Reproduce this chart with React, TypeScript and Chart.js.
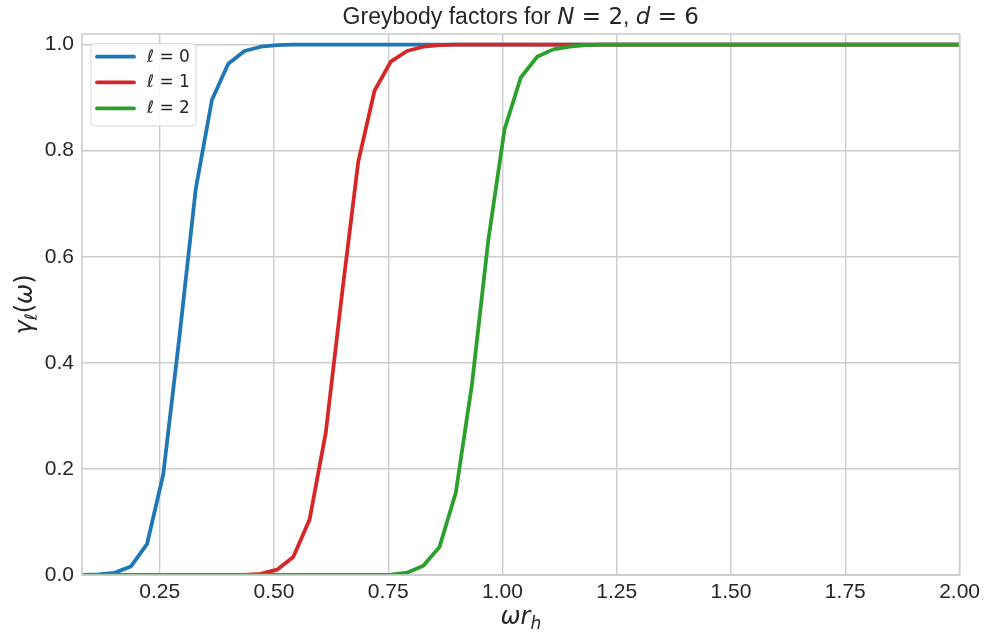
import React, { useEffect, useRef } from "react";
import { Chart, registerables } from "chart.js";
Chart.register(...registerables);

const omegaRh = [
  0.08, 0.1156, 0.1511, 0.1867, 0.2222, 0.2578, 0.2933, 0.3289, 0.3644, 0.4,
  0.4356, 0.4711, 0.5067, 0.5422, 0.5778, 0.6133, 0.6489, 0.6844, 0.72, 0.7556,
  0.7911, 0.8267, 0.8622, 0.8978, 0.9333, 0.9689, 1.0044, 1.04, 1.0756, 1.1111,
  1.1467, 1.1822, 1.2178, 1.2533, 1.2889, 1.3244, 1.36, 1.3956, 1.4311, 1.4667,
  1.5022, 1.5378, 1.5733, 1.6089, 1.6444, 1.68, 1.7156, 1.7511, 1.7867, 1.8222,
  1.8578, 1.8933, 1.9289, 1.9644, 2.0,
];

const gammaL0 = [
  0.0002, 0.001, 0.004, 0.016, 0.058, 0.19, 0.45, 0.728, 0.896, 0.964,
  0.988, 0.996, 0.999, 1, 1, 1, 1, 1, 1, 1,
  1, 1, 1, 1, 1, 1, 1, 1, 1, 1,
  1, 1, 1, 1, 1, 1, 1, 1, 1, 1,
  1, 1, 1, 1, 1, 1, 1, 1, 1, 1,
  1, 1, 1, 1, 1,
];

const gammaL1 = [
  0, 0, 0, 0, 0, 0, 0, 0, 0, 0.0001,
  0.0004, 0.002, 0.01, 0.034, 0.104, 0.268, 0.53, 0.779, 0.913, 0.968,
  0.988, 0.996, 0.999, 1, 1, 1, 1, 1, 1, 1,
  1, 1, 1, 1, 1, 1, 1, 1, 1, 1,
  1, 1, 1, 1, 1, 1, 1, 1, 1, 1,
  1, 1, 1, 1, 1,
];

const gammaL2 = [
  0, 0, 0, 0, 0, 0, 0, 0, 0, 0,
  0, 0, 0, 0, 0, 0, 0, 0, 0.0001, 0.0006,
  0.0043, 0.0175, 0.053, 0.155, 0.36, 0.631, 0.84, 0.938, 0.977, 0.991,
  0.996, 0.999, 1, 1, 1, 1, 1, 1, 1, 1,
  1, 1, 1, 1, 1, 1, 1, 1, 1, 1,
  1, 1, 1, 1, 1,
];

const xTicks = [0.25, 0.5, 0.75, 1.0, 1.25, 1.5, 1.75, 2.0];
const yTicks = [0, 0.2, 0.4, 0.6, 0.8, 1.0];
const ellValues = ["0", "1", "2"];
const seriesColors = ["#1f77b4", "#d62728", "#2ca02c"];

const TEXT = "#262626";
const GRID = "#cccccc";
const SANS = "'Liberation Sans', Arial, sans-serif";
const MATH = "'DejaVu Sans', sans-serif";

type Seg = { t: string; font: string; dy?: number };

function segWidth(ctx: CanvasRenderingContext2D, segs: Seg[]) {
  let w = 0;
  for (const s of segs) {
    ctx.font = s.font;
    w += ctx.measureText(s.t).width;
  }
  return w;
}

function drawSegs(ctx: CanvasRenderingContext2D, segs: Seg[], x: number, y: number, align: "center" | "left") {
  const w = segWidth(ctx, segs);
  let cx = align === "center" ? x - w / 2 : x;
  ctx.textAlign = "left";
  for (const s of segs) {
    ctx.font = s.font;
    ctx.fillText(s.t, cx, y + (s.dy || 0));
    cx += ctx.measureText(s.t).width;
  }
}

const decorPlugin = {
  id: "decor",
  afterDatasetsDraw(chart: any) {
    const ctx: CanvasRenderingContext2D = chart.ctx;
    const a = chart.chartArea;
    ctx.save();
    // frame
    ctx.strokeStyle = GRID;
    ctx.lineWidth = 1.6;
    ctx.strokeRect(a.left, a.top, a.right - a.left, a.bottom - a.top);

    // legend
    const lx = 91, ly = 43.5, lw = 105, lh = 82.5;
    ctx.beginPath();
    (ctx as any).roundRect(lx, ly, lw, lh, 4);
    ctx.fillStyle = "rgba(255,255,255,0.85)";
    ctx.fill();
    ctx.strokeStyle = "#d8d8d8";
    ctx.lineWidth = 1;
    ctx.stroke();
    const rows = [56.7, 82.3, 108.3];
    ellValues.forEach((v, i) => {
      ctx.strokeStyle = seriesColors[i];
      ctx.lineWidth = 3.8;
      ctx.lineCap = "round";
      ctx.beginPath();
      ctx.moveTo(97, rows[i]);
      ctx.lineTo(134, rows[i]);
      ctx.stroke();
      ctx.fillStyle = TEXT;
      ctx.textBaseline = "middle";
      drawSegs(ctx, [
        { t: "ℓ", font: `italic 17px ${MATH}` },
        { t: " = " + v, font: `17px ${MATH}` },
      ], 147, rows[i] + 0.5, "left");
    });

    // title
    ctx.fillStyle = TEXT;
    ctx.textBaseline = "alphabetic";
    const cx = (a.left + a.right) / 2;
    drawSegs(ctx, [
      { t: "Greybody factors for ", font: `23px ${SANS}` },
      { t: "N", font: `italic 23px ${MATH}` },
      { t: " = 2", font: `23px ${MATH}` },
      { t: ", ", font: `23px ${SANS}` },
      { t: "d", font: `italic 23px ${MATH}` },
      { t: " = 6", font: `23px ${MATH}` },
    ], cx, 24, "center");

    // x label
    drawSegs(ctx, [
      { t: "ωr", font: `italic 24px ${MATH}` },
      { t: "h", font: `italic 17px ${MATH}`, dy: 5 },
    ], cx, 624, "center");

    // y label
    ctx.save();
    ctx.translate(32, (a.top + a.bottom) / 2);
    ctx.rotate(-Math.PI / 2);
    drawSegs(ctx, [
      { t: "γ", font: `italic 24px ${MATH}` },
      { t: "ℓ", font: `italic 17px ${MATH}`, dy: 5 },
      { t: "(", font: `24px ${MATH}` },
      { t: "ω", font: `italic 24px ${MATH}` },
      { t: ")", font: `24px ${MATH}` },
    ], 0, 0, "center");
    ctx.restore();
    ctx.restore();
  },
};

export default function App() {
  const ref = useRef<HTMLCanvasElement | null>(null);
  useEffect(() => {
    if (!ref.current) return;
    const series = [gammaL0, gammaL1, gammaL2];
    const chart = new Chart(ref.current, {
      type: "line",
      data: {
        datasets: series.map((ys, i) => ({
          label: "ℓ = " + ellValues[i],
          data: omegaRh.map((x, j) => ({ x, y: ys[j] })),
          borderColor: seriesColors[i],
          backgroundColor: seriesColors[i],
          borderWidth: 3.8,
          pointRadius: 0,
          tension: 0,
          fill: false,
          clip: 0,
          order: 2 - i,
          borderJoinStyle: "round",
          borderCapStyle: "round",
        })),
      },
      options: {
        animation: false,
        responsive: false,
        devicePixelRatio: 1,
        events: [],
        layout: { padding: { top: 34, right: 24, bottom: 0, left: 0 } },
        plugins: { legend: { display: false }, tooltip: { enabled: false }, title: { display: false } },
        scales: {
          x: {
            type: "linear",
            min: 0.08,
            max: 2.0,
            afterBuildTicks: (s: any) => { s.ticks = xTicks.map((v) => ({ value: v })); },
            afterFit: (s: any) => { s.height = 57; },
            ticks: {
              callback: (v: any) => Number(v).toFixed(2),
              font: { family: SANS, size: 21 },
              color: TEXT,
              padding: 5,
              maxRotation: 0,
            },
            grid: { color: GRID, lineWidth: 1.4, drawTicks: false },
            border: { display: false },
          },
          y: {
            type: "linear",
            min: 0,
            max: 1.02,
            afterBuildTicks: (s: any) => { s.ticks = yTicks.map((v) => ({ value: v })); },
            afterFit: (s: any) => { s.width = 82; },
            ticks: {
              callback: (v: any) => Number(v).toFixed(1),
              font: { family: SANS, size: 21 },
              color: TEXT,
              padding: 8,
            },
            grid: { color: GRID, lineWidth: 1.4, drawTicks: false },
            border: { display: false },
          },
        },
      },
      plugins: [decorPlugin],
    } as any);
    return () => chart.destroy();
  }, []);
  return (
    <div style={{ position: "absolute", left: 0, top: 0, width: 985, height: 632, background: "#fff" }}>
      <canvas ref={ref} width={985} height={632} style={{ display: "block", width: 985, height: 632 }} />
    </div>
  );
}
